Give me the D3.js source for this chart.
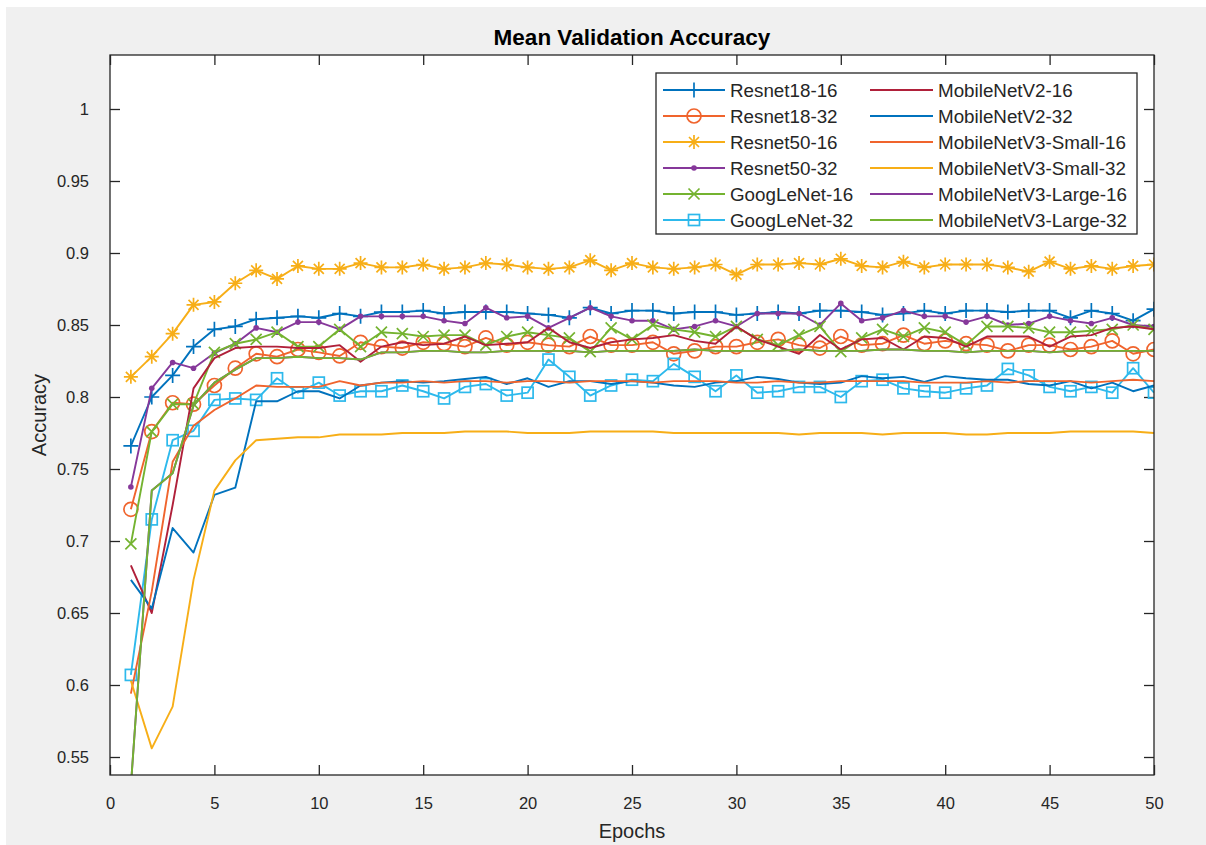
<!DOCTYPE html>
<html>
<head>
<meta charset="utf-8">
<script src="https://cdn.jsdelivr.net/npm/d3@7"></script>
<style>
  html, body { margin: 0; padding: 0; background: #ffffff; }
  svg { display: block; font-family: "Liberation Sans", Arial, Helvetica, sans-serif; }
</style>
</head>
<body>
<svg id="chart" width="1206" height="845"></svg>
<script>
// ---------------- DATA ----------------
const epochs = d3.range(1, 51);
const xTicks = [0, 5, 10, 15, 20, 25, 30, 35, 40, 45, 50];
const yTicks = [0.55, 0.6, 0.65, 0.7, 0.75, 0.8, 0.85, 0.9, 0.95, 1];

const seriesNames = ["Resnet18-16", "Resnet18-32", "Resnet50-16", "Resnet50-32", "GoogLeNet-16", "GoogLeNet-32",
  "MobileNetV2-16", "MobileNetV2-32", "MobileNetV3-Small-16", "MobileNetV3-Small-32", "MobileNetV3-Large-16", "MobileNetV3-Large-32"];

const resnet18_16 = [0.766,0.800,0.815,0.835,0.847,0.849,0.854,0.855,0.856,0.855,
  0.858,0.856,0.859,0.859,0.860,0.858,0.859,0.859,0.859,0.858,
  0.857,0.855,0.862,0.858,0.860,0.860,0.858,0.859,0.859,0.857,
  0.858,0.859,0.858,0.860,0.860,0.859,0.857,0.858,0.860,0.858,
  0.860,0.860,0.859,0.860,0.860,0.855,0.860,0.858,0.853,0.861];
const resnet18_32 = [0.722,0.776,0.796,0.795,0.808,0.820,0.830,0.828,0.833,0.831,
  0.8285,0.838,0.835,0.834,0.838,0.837,0.835,0.841,0.836,0.838,
  0.836,0.835,0.842,0.836,0.836,0.838,0.830,0.832,0.835,0.835,
  0.838,0.840,0.836,0.834,0.842,0.836,0.837,0.843,0.837,0.839,
  0.837,0.836,0.832,0.836,0.836,0.833,0.835,0.839,0.830,0.833];
const resnet50_16 = [0.814,0.828,0.844,0.864,0.866,0.879,0.888,0.882,0.891,0.889,
  0.889,0.893,0.890,0.890,0.892,0.889,0.890,0.893,0.892,0.890,
  0.889,0.890,0.895,0.888,0.893,0.890,0.889,0.890,0.892,0.885,
  0.892,0.892,0.893,0.892,0.896,0.891,0.890,0.894,0.890,0.892,
  0.892,0.892,0.890,0.887,0.894,0.889,0.891,0.889,0.891,0.892];
const resnet50_32 = [0.7375,0.806,0.824,0.820,0.8305,0.837,0.848,0.845,0.852,0.852,
  0.847,0.856,0.856,0.856,0.856,0.853,0.851,0.862,0.855,0.856,
  0.848,0.855,0.862,0.856,0.853,0.853,0.847,0.849,0.853,0.849,
  0.858,0.858,0.858,0.850,0.865,0.853,0.855,0.860,0.856,0.856,
  0.852,0.856,0.850,0.851,0.856,0.853,0.851,0.855,0.850,0.849];
const googlenet_16 = [0.698,0.776,0.795,0.795,0.831,0.837,0.840,0.845,0.835,0.835,
  0.847,0.835,0.845,0.844,0.842,0.843,0.843,0.836,0.842,0.845,
  0.843,0.841,0.8315,0.848,0.840,0.850,0.847,0.845,0.842,0.849,
  0.840,0.836,0.843,0.849,0.8315,0.841,0.847,0.842,0.848,0.845,
  0.836,0.849,0.849,0.848,0.845,0.845,0.846,0.847,0.850,0.847];
const googlenet_32 = [0.607,0.715,0.770,0.7765,0.798,0.799,0.798,0.813,0.803,0.810,
  0.801,0.804,0.804,0.808,0.804,0.799,0.807,0.809,0.801,0.803,
  0.826,0.814,0.801,0.808,0.812,0.811,0.823,0.814,0.804,0.815,
  0.803,0.804,0.807,0.807,0.800,0.811,0.812,0.806,0.804,0.803,
  0.806,0.808,0.8195,0.815,0.807,0.804,0.807,0.803,0.820,0.803];
const mobilenetV2_16 = [0.683,0.650,0.725,0.806,0.827,0.834,0.835,0.835,0.834,0.834,
  0.836,0.8245,0.835,0.838,0.836,0.837,0.842,0.836,0.837,0.838,
  0.848,0.838,0.834,0.838,0.840,0.841,0.843,0.839,0.837,0.849,
  0.840,0.835,0.830,0.843,0.833,0.840,0.841,0.833,0.842,0.841,
  0.835,0.842,0.842,0.842,0.835,0.842,0.843,0.848,0.849,0.847];
const mobilenetV2_32 = [0.673,0.653,0.709,0.692,0.732,0.737,0.797,0.797,0.804,0.804,
  0.799,0.808,0.810,0.811,0.810,0.811,0.8125,0.814,0.809,0.813,
  0.807,0.811,0.811,0.809,0.811,0.810,0.808,0.807,0.810,0.811,
  0.814,0.8125,0.810,0.809,0.810,0.8145,0.813,0.814,0.8105,0.8145,
  0.813,0.812,0.812,0.809,0.808,0.811,0.806,0.810,0.804,0.808];
const mobilenetV3S_16 = [0.594,0.665,0.755,0.780,0.791,0.799,0.808,0.807,0.807,0.807,
  0.811,0.808,0.810,0.810,0.811,0.810,0.811,0.811,0.810,0.811,
  0.811,0.810,0.811,0.811,0.811,0.810,0.811,0.811,0.811,0.810,
  0.810,0.811,0.810,0.810,0.811,0.811,0.811,0.811,0.810,0.810,
  0.810,0.811,0.810,0.811,0.811,0.811,0.810,0.811,0.812,0.811];
const mobilenetV3S_32 = [0.603,0.556,0.585,0.673,0.735,0.756,0.770,0.771,0.772,0.772,
  0.774,0.774,0.774,0.775,0.775,0.775,0.776,0.776,0.776,0.775,
  0.775,0.775,0.776,0.776,0.776,0.776,0.775,0.775,0.775,0.775,
  0.775,0.775,0.774,0.775,0.775,0.775,0.774,0.775,0.775,0.775,
  0.774,0.774,0.775,0.775,0.775,0.776,0.776,0.776,0.776,0.775];
const mobilenetV3L_16 = [0.530,0.735,0.747,0.794,0.810,0.819,0.827,0.827,0.828,0.827,
  0.827,0.826,0.831,0.831,0.832,0.832,0.831,0.831,0.832,0.832,
  0.832,0.832,0.831,0.832,0.832,0.832,0.832,0.833,0.832,0.832,
  0.832,0.832,0.833,0.832,0.832,0.832,0.833,0.833,0.832,0.832,
  0.831,0.832,0.832,0.832,0.831,0.832,0.832,0.832,0.832,0.832];
const mobilenetV3L_32 = [0.530,0.735,0.747,0.794,0.810,0.819,0.827,0.827,0.828,0.827,
  0.827,0.826,0.831,0.831,0.832,0.832,0.831,0.831,0.832,0.832,
  0.832,0.832,0.831,0.832,0.832,0.832,0.832,0.833,0.832,0.832,
  0.832,0.832,0.833,0.832,0.832,0.832,0.833,0.833,0.832,0.832,
  0.831,0.832,0.832,0.832,0.831,0.832,0.832,0.832,0.832,0.832];

const seriesValues = [resnet18_16, resnet18_32, resnet50_16, resnet50_32, googlenet_16, googlenet_32,
  mobilenetV2_16, mobilenetV2_32, mobilenetV3S_16, mobilenetV3S_32, mobilenetV3L_16, mobilenetV3L_32];
const seriesColors = ["#0072BD", "#F0642D", "#F7AE17", "#86389A", "#74B330", "#2DB9EC",
  "#B0203A", "#0072BD", "#F0642D", "#F7AE17", "#86389A", "#74B330"];
const seriesMarkers = ["plus", "circle", "star", "point", "x", "square", "none", "none", "none", "none", "none", "none"];

// ---------------- LAYOUT ----------------
const svg = d3.select("#chart");
const W = 1206, H = 845;
const plot = { left: 110, right: 1154, top: 55, bottom: 775 };
const axisColor = "#262626";

svg.append("rect").attr("x", 0).attr("y", 0).attr("width", W).attr("height", H).attr("fill", "#ffffff");
svg.append("rect").attr("x", 6).attr("y", 7).attr("width", W - 6).attr("height", H - 7).attr("fill", "#f0f0f0");

const x = d3.scaleLinear().domain([0, 50]).range([plot.left, plot.right]);
const y = d3.scaleLinear().domain([0.5375, 1.0375]).range([plot.bottom, plot.top]);

svg.append("rect").attr("x", plot.left).attr("y", plot.top)
  .attr("width", plot.right - plot.left).attr("height", plot.bottom - plot.top).attr("fill", "#ffffff");

svg.append("defs").append("clipPath").attr("id", "clip")
  .append("rect").attr("x", plot.left).attr("y", plot.top)
  .attr("width", plot.right - plot.left).attr("height", plot.bottom - plot.top);

// axes (ticks inward, mirrored)
const tickLen = 10;
const fmtY = d => String(+d.toFixed(2));
const gBottom = svg.append("g").attr("transform", `translate(0,${plot.bottom})`)
  .call(d3.axisBottom(x).tickValues(xTicks).tickSizeInner(-tickLen).tickSizeOuter(0).tickPadding(22).tickFormat(d3.format("d")));
const gTop = svg.append("g").attr("transform", `translate(0,${plot.top})`)
  .call(d3.axisTop(x).tickValues(xTicks).tickSizeInner(-tickLen).tickSizeOuter(0).tickFormat(""));
const gLeft = svg.append("g").attr("transform", `translate(${plot.left},0)`)
  .call(d3.axisLeft(y).tickValues(yTicks).tickSizeInner(-tickLen).tickSizeOuter(0).tickPadding(21).tickFormat(fmtY));
const gRight = svg.append("g").attr("transform", `translate(${plot.right},0)`)
  .call(d3.axisRight(y).tickValues(yTicks).tickSizeInner(-tickLen).tickSizeOuter(0).tickFormat(""));
[gBottom, gTop, gLeft, gRight].forEach(g => {
  g.select(".domain").remove();
  g.selectAll(".tick line").attr("stroke", axisColor).attr("stroke-width", 1.3);
  g.selectAll(".tick text").attr("fill", axisColor).attr("font-size", 16.5)
    .attr("font-family", "'Liberation Sans', Arial, sans-serif");
});

// data lines
const plotG = svg.append("g").attr("clip-path", "url(#clip)");
const line = d3.line().x((d, i) => x(epochs[i])).y(d => y(d));

function markerPath(type) {
  switch (type) {
    case "plus": return "M-7.5,0H7.5M0,-7.5V7.5";
    case "star": return "M-7,0H7M0,-7V7M-5,-5L5,5M-5,5L5,-5";
    case "x": return "M-5.5,-5.5L5.5,5.5M-5.5,5.5L5.5,-5.5";
    default: return null;
  }
}
function drawMarker(g, type, cx, cy, color) {
  if (type === "none") return;
  if (type === "circle") {
    g.append("circle").attr("cx", cx).attr("cy", cy).attr("r", 7)
      .attr("fill", "none").attr("stroke", color).attr("stroke-width", 1.7);
  } else if (type === "square") {
    g.append("rect").attr("x", cx - 5.5).attr("y", cy - 5.5).attr("width", 11).attr("height", 11)
      .attr("fill", "none").attr("stroke", color).attr("stroke-width", 1.7);
  } else if (type === "point") {
    g.append("circle").attr("cx", cx).attr("cy", cy).attr("r", 2.8).attr("fill", color);
  } else {
    g.append("path").attr("d", markerPath(type)).attr("transform", `translate(${cx},${cy})`)
      .attr("fill", "none").attr("stroke", color).attr("stroke-width", 1.7);
  }
}

seriesValues.forEach((vals, si) => {
  const color = seriesColors[si];
  plotG.append("path").datum(vals).attr("d", line)
    .attr("fill", "none").attr("stroke", color).attr("stroke-width", 1.9).attr("stroke-linejoin", "round");
  const mg = plotG.append("g");
  vals.forEach((v, i) => drawMarker(mg, seriesMarkers[si], x(epochs[i]), y(v), color));
});

// plot frame
svg.append("rect").attr("x", plot.left).attr("y", plot.top)
  .attr("width", plot.right - plot.left).attr("height", plot.bottom - plot.top)
  .attr("fill", "none").attr("stroke", axisColor).attr("stroke-width", 1.3);

// title & labels
svg.append("text").attr("x", (plot.left + plot.right) / 2).attr("y", 45)
  .attr("text-anchor", "middle").attr("font-size", 22.5).attr("font-weight", "bold").attr("fill", "#000")
  .text("Mean Validation Accuracy");
svg.append("text").attr("x", (plot.left + plot.right) / 2).attr("y", 838)
  .attr("text-anchor", "middle").attr("font-size", 20).attr("fill", axisColor).text("Epochs");
svg.append("text").attr("transform", `translate(46,${(plot.top + plot.bottom) / 2}) rotate(-90)`)
  .attr("text-anchor", "middle").attr("font-size", 20).attr("fill", axisColor).text("Accuracy");

// legend
const lg = svg.append("g");
const lgBox = { x: 656, y: 73, w: 481, h: 161 };
lg.append("rect").attr("x", lgBox.x).attr("y", lgBox.y).attr("width", lgBox.w).attr("height", lgBox.h)
  .attr("fill", "#ffffff").attr("stroke", axisColor).attr("stroke-width", 1.3);
const colX = [{ l0: 663, l1: 725, t: 730 }, { l0: 870, l1: 933, t: 938 }];
seriesNames.forEach((name, si) => {
  const col = colX[Math.floor(si / 6)];
  const ry = 90 + (si % 6) * 26;
  lg.append("line").attr("x1", col.l0).attr("x2", col.l1).attr("y1", ry).attr("y2", ry)
    .attr("stroke", seriesColors[si]).attr("stroke-width", 1.9);
  drawMarker(lg, seriesMarkers[si], (col.l0 + col.l1) / 2, ry, seriesColors[si]);
  lg.append("text").attr("x", col.t).attr("y", ry + 7).attr("font-size", 18.8).attr("fill", axisColor).text(name);
});
</script>
</body>
</html>
